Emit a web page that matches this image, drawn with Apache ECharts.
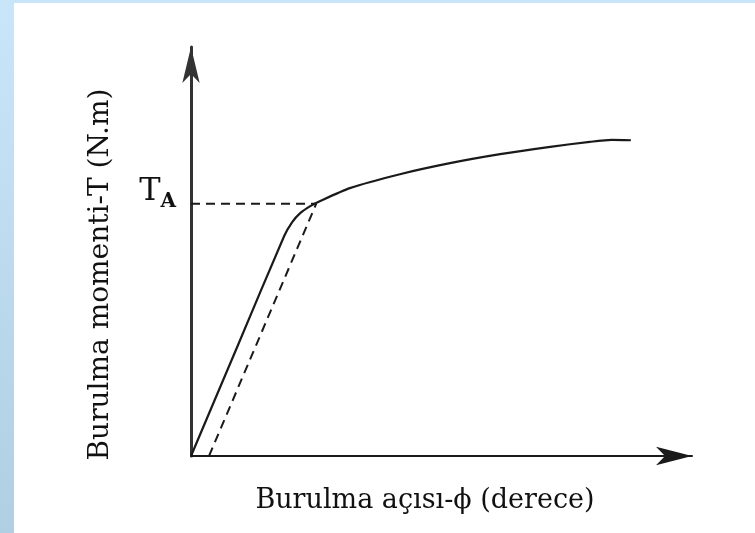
<!DOCTYPE html>
<html>
<head>
<meta charset="utf-8">
<style>
  html, body { margin: 0; padding: 0; }
  #chart { width: 755px; height: 533px; }
</style>
<script src="https://cdn.jsdelivr.net/npm/echarts@6/dist/echarts.min.js"></script>
</head>
<body>
<div id="chart"></div>
<script>
// torsion curve, angle (x) vs moment (y), arbitrary units 0..100
const curveX = [0, 9.3, 18.6, 20.2, 21.8, 23.8, 25.7, 31.7, 41.7, 51.7, 61.7, 71.7, 79.6, 84.0, 87.8];
const curveY = [0, 26.9, 53.8, 57.2, 59.4, 61.1, 62.3, 65.5, 68.9, 71.6, 73.8, 75.6, 76.8, 77.3, 77.2];

// yield point T_A
const yieldX = 25.0;
const yieldY = 61.7;

// unloading line (dashed), parallel to elastic part
const unloadX = [3.6, yieldX];
const unloadY = [0, yieldY];

const xTitle = 'Burulma açısı-ϕ (derece)';
const yTitle = 'Burulma momenti-T (N.m)';

const font = 'DejaVu Serif';

const chart = echarts.init(document.getElementById('chart'));

chart.setOption({
  backgroundColor: {
    type: 'linear', x: 0, y: 0, x2: 0, y2: 1,
    colorStops: [
      { offset: 0, color: '#c9e5f9' },
      { offset: 1, color: '#b0cfe3' },
    ],
  },
  animation: false,
  graphic: [
    {
      type: 'rect',
      z: -10,
      shape: { x: 14, y: 3, width: 741, height: 530 },
      style: { fill: '#ffffff' },
    },
  ],
  grid: {
    left: 191,
    right: 63,
    top: 47,
    bottom: 77,
  },
  xAxis: {
    type: 'value',
    min: 0,
    max: 100,
    name: xTitle,
    nameLocation: 'middle',
    nameGap: 31,
    nameTextStyle: {
      fontFamily: font,
      fontSize: 27,
      color: '#111',
      padding: [0, 33, 0, 0],
    },
    axisLine: {
      lineStyle: { color: '#1a1a1a', width: 2 },
      symbol: ['none', 'arrow'],
      symbolSize: [14, 36],
    },
    axisTick: { show: false },
    axisLabel: { show: false },
    splitLine: { show: false },
  },
  yAxis: {
    type: 'value',
    min: 0,
    max: 100,
    name: yTitle,
    nameLocation: 'middle',
    nameGap: 76,
    nameTextStyle: {
      fontFamily: font,
      fontSize: 28,
      color: '#111',
      padding: [0, 46, 0, 0],
    },
    axisLine: {
      lineStyle: { color: '#333', width: 3 },
      symbol: ['none', 'arrow'],
      symbolSize: [13, 36],
    },
    axisTick: { show: false },
    axisLabel: { show: false },
    splitLine: { show: false },
  },
  series: [
    {
      name: 'curve',
      type: 'line',
      smooth: 0.2,
      symbol: 'none',
      lineStyle: { color: '#1a1a1a', width: 2.2 },
      data: curveX.map((x, i) => [x, curveY[i]]),
      z: 3,
    },
    {
      name: 'unload',
      type: 'line',
      symbol: 'none',
      lineStyle: { color: '#1a1a1a', width: 2, type: [9, 6] },
      data: unloadX.map((x, i) => [x, unloadY[i]]),
    },
    {
      name: 'TA',
      type: 'line',
      symbol: 'none',
      lineStyle: { color: '#1a1a1a', width: 2, type: [9, 6] },
      data: [
        {
          value: [0, yieldY],
          symbol: 'circle',
          symbolSize: 0,
          label: {
            show: true,
            position: 'left',
            distance: 15,
            offset: [0, -12],
            formatter: '{t|T}{a|A}',
            rich: {
              t: { fontFamily: font, fontSize: 32, color: '#111', verticalAlign: 'bottom' },
              a: { fontFamily: font, fontSize: 20, fontWeight: 'bold', color: '#111', verticalAlign: 'bottom', padding: [0, 0, -4, 0] },
            },
          },
        },
        [yieldX, yieldY],
      ],
    },
  ],
});
</script>
</body>
</html>
